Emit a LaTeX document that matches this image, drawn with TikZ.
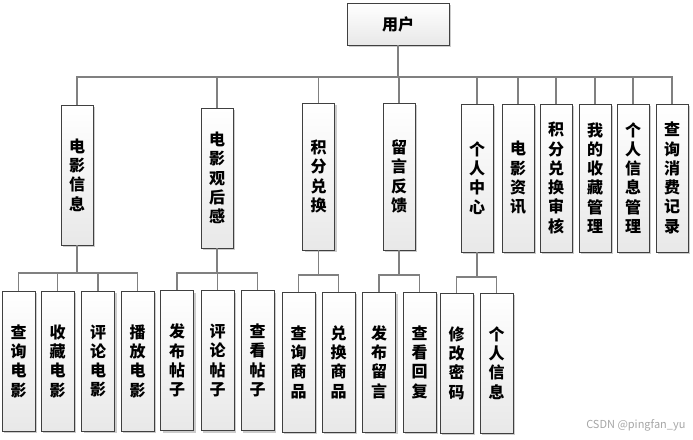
\documentclass[tikz,border=0pt]{standalone}
\usepackage{fontspec}
\usepackage{xcolor}
\usetikzlibrary{shadows}
\newfontfamily\cjk{Noto Sans CJK SC}

\definecolor{linkgray}{HTML}{808080}
\definecolor{boxgray}{HTML}{404040}

\tikzset{
    box/.style={draw=boxgray, line width=0.9pt, top color=white, bottom color=black!9,
        drop shadow={shadow xshift=2pt, shadow yshift=-2pt, opacity=.2, fill=black},
        inner sep=0pt, align=center, minimum width=32pt,
        font=\cjk\bfseries\fontsize{16}{19.3}\selectfont},
    link/.style={draw=linkgray, line width=1.4pt}
}

\begin{document}
\begin{tikzpicture}[x=1pt, y=-1pt]
    \useasboundingbox (0,0) rectangle (693,439);

    % root
    \node[box, minimum width=102pt, minimum height=42pt] (user) at (398,24) {用户};

    % first level
    \node[box, minimum height=140pt] (info) at (77,175) {电\\影\\信\\息};
    \node[box, minimum height=140pt] (review) at (217,178) {电\\影\\观\\后\\感};
    \node[box, minimum height=147pt] (points) at (318.5,176.5) {积\\分\\兑\\换};
    \node[box, minimum height=147pt] (feedback) at (399,176.5) {留\\言\\反\\馈};
    \node[box, minimum height=148pt] (center) at (477,178) {个\\人\\中\\心};
    \node[box, minimum height=148pt] (news) at (518,178) {电\\影\\资\\讯};
    \node[box, minimum height=148pt] (audit) at (556,178) {积\\分\\兑\\换\\审\\核};
    \node[box, minimum height=148pt] (fav) at (595,178) {我\\的\\收\\藏\\管\\理};
    \node[box, minimum height=148pt] (profile) at (633,178) {个\\人\\信\\息\\管\\理};
    \node[box, minimum height=148pt] (record) at (672,178) {查\\询\\消\\费\\记\\录};

    % second level
    \node[box, minimum width=33pt, minimum height=140pt] (info1) at (18.5,361) {查\\询\\电\\影};
    \node[box, minimum width=33pt, minimum height=140pt] (info2) at (57.5,361) {收\\藏\\电\\影};
    \node[box, minimum width=33pt, minimum height=140pt] (info3) at (98,361) {评\\论\\电\\影};
    \node[box, minimum width=33pt, minimum height=140pt] (info4) at (137.5,361) {播\\放\\电\\影};

    \node[box, minimum width=33pt, minimum height=140pt] (review1) at (177,360.5) {发\\布\\帖\\子};
    \node[box, minimum width=33pt, minimum height=140pt] (review2) at (217.5,360.5) {评\\论\\帖\\子};
    \node[box, minimum width=33pt, minimum height=140pt] (review3) at (257.5,360.5) {查\\看\\帖\\子};

    \node[box, minimum width=33pt, minimum height=140pt] (points1) at (298.5,362) {查\\询\\商\\品};
    \node[box, minimum width=33pt, minimum height=140pt] (points2) at (338.5,362) {兑\\换\\商\\品};

    \node[box, minimum width=33pt, minimum height=140pt] (feedback1) at (379,362) {发\\布\\留\\言};
    \node[box, minimum width=33pt, minimum height=140pt] (feedback2) at (419.5,362) {查\\看\\回\\复};

    \node[box, minimum width=33pt, minimum height=140pt] (center1) at (456.5,363) {修\\改\\密\\码};
    \node[box, minimum width=33pt, minimum height=140pt] (center2) at (496.5,363) {个\\人\\信\\息};

    % root to first level
    \coordinate (bus) at (0,77);
    \draw[link] (user.south) -- (user.south |- bus);
    \draw[link] (info.north) -- (info.north |- bus) -- (record.north |- bus) -- (record.north);
    \foreach \n in {review, points, feedback, center, news, audit, fav, profile}
        \draw[link] (\n.north) -- (\n.north |- bus);

    % first to second level
    \draw[link] (info.south) -- (info.south |- 0,273);
    \draw[link] (info1.north) -- (info1.north |- 0,273) -- (info4.north |- 0,273) -- (info4.north);
    \draw[link] (info2.north) -- (info2.north |- 0,273);
    \draw[link] (info3.north) -- (info3.north |- 0,273);

    \draw[link] (review.south) -- (review.south |- 0,273);
    \draw[link] (review1.north) -- (review1.north |- 0,273) -- (review3.north |- 0,273) -- (review3.north);
    \draw[link] (review2.north) -- (review2.north |- 0,273);

    \draw[link] (points.south) -- (points.south |- 0,275);
    \draw[link] (points1.north) -- (points1.north |- 0,275) -- (points2.north |- 0,275) -- (points2.north);

    \draw[link] (feedback.south) -- (feedback.south |- 0,275);
    \draw[link] (feedback1.north) -- (feedback1.north |- 0,275) -- (feedback2.north |- 0,275) -- (feedback2.north);

    \draw[link] (center.south) -- (center.south |- 0,277);
    \draw[link] (center1.north) -- (center1.north |- 0,277) -- (center2.north |- 0,277) -- (center2.north);

    % watermark
    \node[text=black!35, font=\cjk\fontsize{11}{13}\selectfont, anchor=east] (mark) at (689,425) {CSDN @pingfan\_yu};
\end{tikzpicture}
\end{document}
